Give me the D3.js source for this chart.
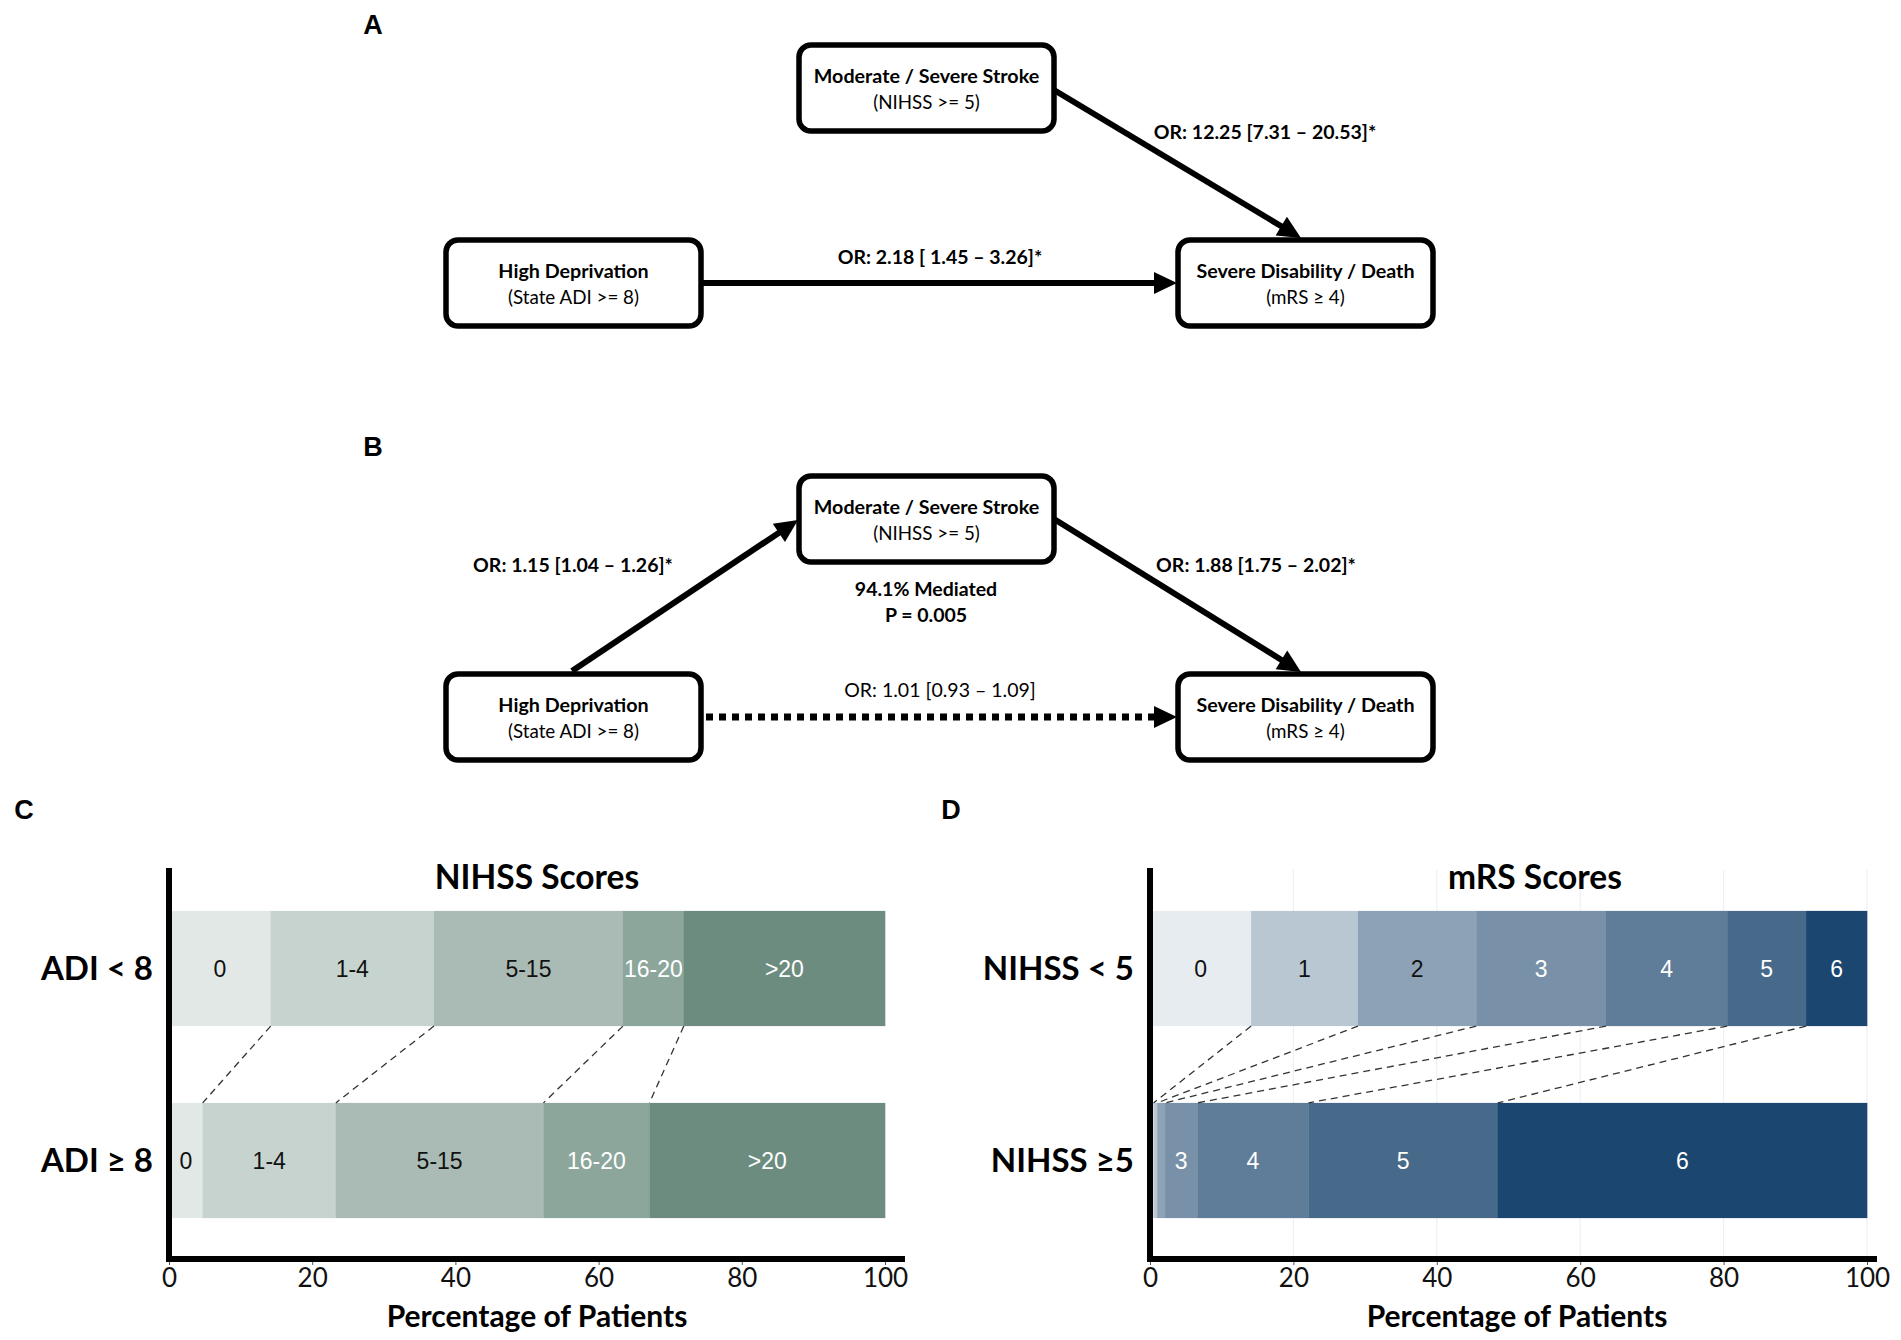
<!DOCTYPE html>
<html>
<head>
<meta charset="utf-8">
<script src="https://cdn.jsdelivr.net/npm/d3@7"></script>
<style>
  body { margin: 0; background: #fff; }
  svg { display: block; }
  .box { fill: #fff; stroke: #000; stroke-width: 5.5; }
  .node-title { font-family: Lato, sans-serif; font-weight: 700; font-size: 19.7px; text-anchor: middle; }
  .node-sub { font-family: Lato, sans-serif; font-size: 18.8px; text-anchor: middle; }
  .edge-label { font-family: Lato, sans-serif; font-size: 19.5px; text-anchor: middle; }
  .panel { font-family: "Liberation Sans", Arial, sans-serif; font-weight: 700; font-size: 27px; text-anchor: middle; }
  .bar-title { font-family: Lato, sans-serif; font-weight: 700; font-size: 33.5px; text-anchor: middle; }
  .cat-label { font-family: Lato, sans-serif; font-weight: 700; font-size: 33px; text-anchor: end; }
  .seg-label { font-family: "Liberation Sans", Arial, sans-serif; font-size: 23px; text-anchor: middle; }
  .axis-title { font-family: Lato, sans-serif; font-weight: 700; font-size: 30px; text-anchor: middle; }
  .tick text { font-family: Lato, sans-serif; font-size: 26px; fill: #111; }
  .tick line { stroke: #555; }
</style>
</head>
<body>
<svg width="1901" height="1340"></svg>
<script>
// ---- data ----
const nihssCats = ['0', '1-4', '5-15', '16-20', '>20'];
const nihssGroups = ['ADI < 8', 'ADI \u2265 8'];
const nihssLow = [14.2, 22.8, 26.4, 8.5, 28.1];
const nihssHigh = [4.7, 18.6, 29.0, 14.8, 32.9];
const nihssColors = ['#e1e8e5', '#c6d3cf', '#a9bbb4', '#8ca69c', '#6d8c80'];
const nihssTextColors = ['#111', '#111', '#111', '#fff', '#fff'];

const mrsCats = ['0', '1', '2', '3', '4', '5', '6'];
const mrsGroups = ['NIHSS < 5', 'NIHSS \u22655'];
const mrsLow = [14.1, 14.9, 16.5, 18.1, 16.9, 11.0, 8.5];
const mrsHigh = [0.5, 0.5, 1.1, 4.5, 15.5, 26.4, 51.5];
const mrsColors = ['#e7ecf0', '#b9c7d2', '#8da2b6', '#7890a8', '#5f7c98', '#486a8a', '#1b466f'];
const mrsTextColors = ['#111', '#111', '#111', '#fff', '#fff', '#fff', '#fff'];

const xTicks = [0, 20, 40, 60, 80, 100];

const nodeTitles = ['High Deprivation', 'Moderate / Severe Stroke', 'Severe Disability / Death'];
const nodeSubs = ['(State ADI >= 8)', '(NIHSS >= 5)', '(mRS \u2265 4)'];

const edgesA = [
  { from: 1, to: 2, label: 'OR: 12.25 [7.31 \u2013 20.53]*', bold: true, dotted: false },
  { from: 0, to: 2, label: 'OR: 2.18 [ 1.45 \u2013 3.26]*', bold: true, dotted: false }
];
const edgesB = [
  { from: 0, to: 1, label: 'OR: 1.15 [1.04 \u2013 1.26]*', bold: true, dotted: false },
  { from: 1, to: 2, label: 'OR: 1.88 [1.75 \u2013 2.02]*', bold: true, dotted: false },
  { from: 0, to: 2, label: 'OR: 1.01 [0.93 \u2013 1.09]', bold: false, dotted: true }
];
const mediationText = ['94.1% Mediated', 'P = 0.005'];

const svg = d3.select('svg');

// ---- path diagrams ----
const boxW = 255, boxH = 86;

function drawDiagram(letter, y0, edges, layout) {
  const g = svg.append('g');
  g.append('text').attr('class', 'panel').attr('x', 373).attr('y', y0 - 10).text(letter);

  edges.forEach((e, i) => {
    const [x1, y1] = layout.edges[i][0];
    const [x2, y2] = layout.edges[i][1];
    const ang = Math.atan2(y2 - y1, x2 - x1);
    const len = 23, hw = 11;
    const bx = x2 - len * Math.cos(ang), by = y2 - len * Math.sin(ang);
    g.append('line')
      .attr('x1', x1).attr('y1', y1)
      .attr('x2', bx + 2 * Math.cos(ang)).attr('y2', by + 2 * Math.sin(ang))
      .attr('stroke', '#000')
      .attr('stroke-width', e.dotted ? 7 : 6)
      .attr('stroke-dasharray', e.dotted ? '7,6' : null);
    const px = -Math.sin(ang), py = Math.cos(ang);
    g.append('path')
      .attr('d', `M${x2},${y2} L${bx + px * hw},${by + py * hw} L${bx - px * hw},${by - py * hw} Z`)
      .attr('fill', '#000');
    g.append('text')
      .attr('class', 'edge-label')
      .attr('x', layout.labels[i][0]).attr('y', layout.labels[i][1])
      .attr('dy', '0.35em')
      .style('font-weight', e.bold ? 700 : 400)
      .text(e.label);
  });

  layout.nodes.forEach(([x, y], i) => {
    g.append('rect').attr('class', 'box')
      .attr('x', x).attr('y', y).attr('width', boxW).attr('height', boxH)
      .attr('rx', 12).attr('ry', 12);
    g.append('text').attr('class', 'node-title')
      .attr('x', x + boxW / 2).attr('y', y + 31).attr('dy', '0.35em').text(nodeTitles[i]);
    g.append('text').attr('class', 'node-sub')
      .attr('x', x + boxW / 2).attr('y', y + 57).attr('dy', '0.35em').text(nodeSubs[i]);
  });
  return g;
}

drawDiagram('A', 44, edgesA, {
  nodes: [[446, 240], [799, 45], [1178, 240]],
  edges: [[[1054, 90], [1301, 238]], [[703, 283], [1177, 283]]],
  labels: [[1265, 132], [940, 257]]
});

const gB = drawDiagram('B', 466, edgesB, {
  nodes: [[446, 674], [799, 476], [1178, 674]],
  edges: [[[572, 671], [798, 520]], [[1054, 519], [1301, 672]], [[706, 717], [1177, 717]]],
  labels: [[573, 565], [1256, 565], [940, 690]]
});
mediationText.forEach((t, i) => {
  gB.append('text').attr('class', 'edge-label').style('font-weight', 700)
    .attr('x', 926).attr('y', 589 + i * 26).attr('dy', '0.35em').text(t);
});

// ---- stacked bars ----
function drawBars(opt) {
  const g = svg.append('g');
  const x = d3.scaleLinear().domain([0, 100]).range([opt.x0, opt.x1]);
  const y = d3.scaleBand().domain(opt.groups).range([870, 1259]).paddingInner(0.4).paddingOuter(0.213);
  const axisY = 1259;

  g.append('text').attr('class', 'panel').attr('x', opt.letterX).attr('y', 819).text(opt.letter);

  if (opt.grid) {
    g.selectAll('.grid').data(xTicks.slice(1)).enter().append('line')
      .attr('x1', d => x(d)).attr('x2', d => x(d))
      .attr('y1', 870).attr('y2', axisY)
      .attr('stroke', '#edf1f5').attr('stroke-width', 1.2);
  }

  const rows = opt.groups.map((grp, gi) => {
    let acc = 0;
    return opt.values[gi].map((v, ci) => {
      const s = { grp, ci, x0: acc, x1: acc + v, v };
      acc += v;
      return s;
    });
  });

  rows.forEach((segs, gi) => {
    const row = g.append('g');
    row.selectAll('rect').data(segs).enter().append('rect')
      .attr('x', d => x(d.x0)).attr('width', d => x(d.x1) - x(d.x0) + 0.3)
      .attr('y', y(opt.groups[gi])).attr('height', y.bandwidth())
      .attr('fill', d => opt.colors[d.ci]);
    row.selectAll('text').data(segs.filter(d => d.v >= 3)).enter().append('text')
      .attr('class', 'seg-label')
      .attr('x', d => x((d.x0 + d.x1) / 2))
      .attr('y', y(opt.groups[gi]) + y.bandwidth() / 2)
      .attr('dy', '0.36em')
      .attr('fill', d => opt.textColors[d.ci])
      .text(d => opt.cats[d.ci]);
    g.append('text').attr('class', 'cat-label')
      .attr('x', opt.x0 - 16).attr('y', y(opt.groups[gi]) + y.bandwidth() / 2)
      .attr('dy', '0.36em').text(opt.groups[gi]);
  });

  // dashed connectors between boundaries
  const top = rows[0], bot = rows[1];
  for (let i = 0; i < top.length - 1; i++) {
    g.append('line')
      .attr('x1', x(top[i].x1)).attr('y1', y(opt.groups[0]) + y.bandwidth())
      .attr('x2', x(bot[i].x1)).attr('y2', y(opt.groups[1]))
      .attr('stroke', '#333').attr('stroke-width', 1.3).attr('stroke-dasharray', '7,5');
  }

  const axis = d3.axisBottom(x).tickValues(xTicks).tickSize(6).tickPadding(4).tickSizeOuter(0);
  const ax = g.append('g').attr('transform', `translate(0,${axisY})`).call(axis);
  ax.select('.domain').remove();

  g.append('line').attr('x1', opt.x0 - 3).attr('x2', opt.axisEnd)
    .attr('y1', axisY).attr('y2', axisY).attr('stroke', '#000').attr('stroke-width', 6);
  g.append('line').attr('x1', opt.x0).attr('x2', opt.x0)
    .attr('y1', 868).attr('y2', axisY + 3).attr('stroke', '#000').attr('stroke-width', 6);

  g.append('text').attr('class', 'bar-title').attr('x', opt.titleX).attr('y', 877).attr('dy', '0.35em').text(opt.title);
  g.append('text').attr('class', 'axis-title').attr('x', opt.axisTitleX).attr('y', 1316).attr('dy', '0.35em').text('Percentage of Patients');
}

drawBars({
  letter: 'C', letterX: 24, title: 'NIHSS Scores', titleX: 537, axisTitleX: 537,
  x0: 169, x1: 885, axisEnd: 905,
  groups: nihssGroups, cats: nihssCats, values: [nihssLow, nihssHigh],
  colors: nihssColors, textColors: nihssTextColors, grid: false
});

drawBars({
  letter: 'D', letterX: 951, title: 'mRS Scores', titleX: 1535, axisTitleX: 1517,
  x0: 1150, x1: 1867, axisEnd: 1877,
  groups: mrsGroups, cats: mrsCats, values: [mrsLow, mrsHigh],
  colors: mrsColors, textColors: mrsTextColors, grid: true
});
</script>
</body>
</html>
